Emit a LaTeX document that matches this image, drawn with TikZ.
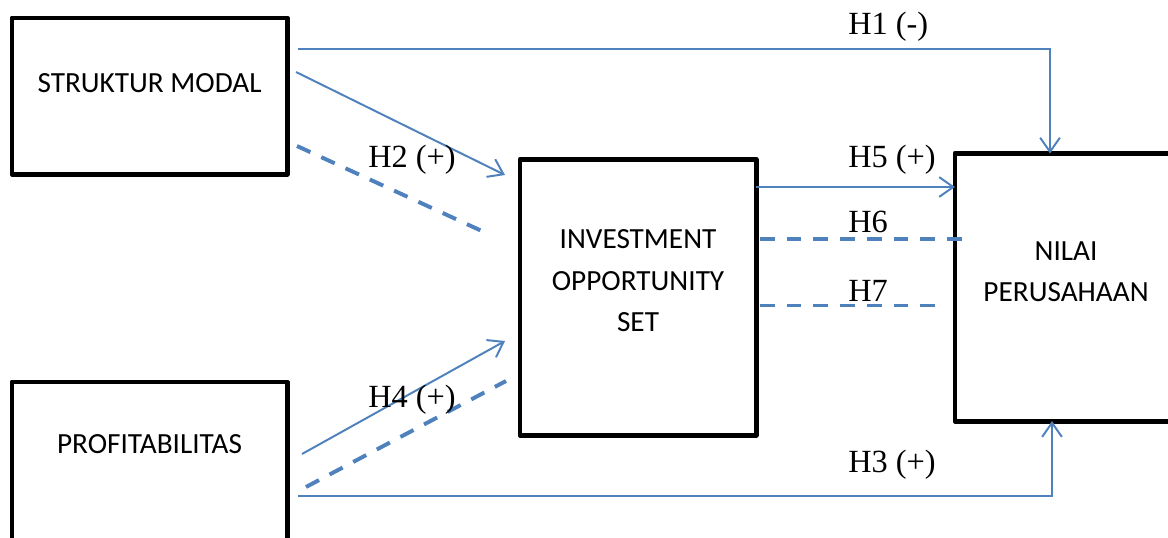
\documentclass[tikz,border=0pt]{standalone}
\usepackage{fontspec}
\newfontfamily\boxfont{Carlito}
\newfontfamily\hypfont{Liberation Serif}
\usetikzlibrary{arrows.meta}
\definecolor{linkblue}{HTML}{4F81BD}

\begin{document}
\begin{tikzpicture}[x=0.025cm, y=-0.025cm,
    varbox/.style={draw, line width=3.5pt, line join=round, inner sep=0pt, outer sep=0pt,
        anchor=north west, align=center, font=\boxfont\fontsize{20.8}{29.5}\selectfont},
    link/.style={linkblue, line width=1.4pt},
    barb/.style={-{Straight Barb[length=10pt,width=14pt]}},
    dashlink/.style={linkblue, line width=2.8pt, dash pattern=on 10.5pt off 8.5pt},
    hyp/.style={anchor=base west, inner sep=0pt, font=\hypfont\fontsize{23}{27}\selectfont}]
    \useasboundingbox (0,0) rectangle (1168,538);
    \clip (0,0) rectangle (1168,538);

    % variables (text height runs down to the last baseline)
    \node[varbox, minimum width=6.875cm, text height=1.85cm, text depth=2.05cm] (sm) at (12,18) {STRUKTUR MODAL};
    \node[varbox, minimum width=6.875cm, text height=1.775cm, text depth=2.3cm] (prof) at (12,382) {PROFITABILITAS};
    \node[varbox, minimum width=5.9cm, text height=4.305cm, text depth=2.5825cm] (ios) at (520,159.5) {INVESTMENT\\OPPORTUNITY\\SET};
    \node[varbox, minimum width=5.55cm, text height=3.705cm, text depth=2.9825cm] (nv) at (955,153.5) {NILAI\\PERUSAHAAN};

    % loose ends of the paths
    \coordinate (h1a) at (298,49);
    \coordinate (h1b) at (1050,49);
    \coordinate (h2a) at (296,72);
    \coordinate (h2b) at (505,175);
    \coordinate (m2a) at (297,146);
    \coordinate (m2b) at (484,232);
    \coordinate (h4a) at (302,454);
    \coordinate (h4b) at (505,341);
    \coordinate (m4a) at (306,487);
    \coordinate (m4b) at (506,381);
    \coordinate (h3a) at (298,496);
    \coordinate (h3b) at (1052,496);
    \coordinate (h5) at (850,187);
    \coordinate (h6a) at (760,239);
    \coordinate (h6b) at (966,239);
    \coordinate (h7a) at (760,305.5);
    \coordinate (h7b) at (943,305.5);

    % direct effects
    \draw[link, barb] (h1a) -- (h1b) -- (h1b |- nv.north);
    \draw[link, barb] (h3a) -- (h3b) -- (h3b |- nv.south);
    \draw[link, barb] (h2a) -- (h2b);
    \draw[link, barb] (h4a) -- (h4b);
    \draw[link, barb] (ios.east |- h5) -- (nv.west |- h5);

    % moderating paths
    \draw[dashlink] (m2a) -- (m2b);
    \draw[dashlink] (m4a) -- (m4b);
    \draw[dashlink] (h6a) -- (h6b);
    \draw[dashlink] (h7a) -- (h7b);

    % hypotheses
    \node[hyp] (lh1) at (848,35) {H1 (-)};
    \node[hyp] (lh2) at (368,167) {H2 (+)};
    \node[hyp] (lh3) at (848,472) {H3 (+)};
    \node[hyp] (lh4) at (368,407) {H4 (+)};
    \node[hyp] (lh5) at (848,167) {H5 (+)};
    \node[hyp] (lh6) at (848,232) {H6};
    \node[hyp] (lh7) at (848,301) {H7};
\end{tikzpicture}
\end{document}
